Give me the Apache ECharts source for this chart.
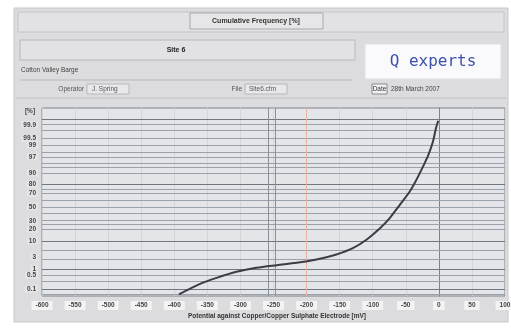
<!DOCTYPE html>
<html><head><meta charset="utf-8">
<script src="https://cdn.jsdelivr.net/npm/echarts@6/dist/echarts.min.js"></script>
<style>html,body{margin:0;padding:0;background:#fff}#c{width:511px;height:329px}</style>
</head><body><div id="c"></div>
<script>
// ---- data ----
const potentialMV = [-393, -361, -336, -306, -276, -245, -215, -185, -155, -130, -109, -89, -74, -59, -44, -34, -24, -16, -9, -4.5, -1];
const cumulativePct = [0.05, 0.19, 0.38, 0.73, 1.1, 1.42, 1.76, 2.4, 3.67, 6.0, 11.0, 21.0, 34.0, 53.1, 71.8, 84.5, 93.5, 97.4, 99.28, 99.84, 99.94];
const yTickLabels = [99.9, 99.5, 99, 97, 90, 80, 70, 50, 30, 20, 10, 3, 1, 0.5, 0.1];
const yGridPct = [99.95, 99.9, 99.8, 99.5, 99, 98, 97, 95, 93, 90, 80, 75, 70, 60, 50, 40, 30, 25, 20, 10, 5, 2.5, 1, 0.5, 0.25, 0.1, 0.05];
const yMajorPct = [99.95, 80, 10, 1, 0.1];
const xMarkers = [-258, -248];
const xMarkerRed = [-200];
const titleText = 'Cumulative Frequency [%]';
const siteText = 'Site 6';
const locText = 'Cotton Valley Barge';
const operatorText = 'Operator';
const operatorVal = 'J. Spring';
const fileLabel = 'File';
const fileVal = 'Site6.cfm';
const dateLabel = 'Date';
const dateVal = '28th March 2007';
const xTitle = 'Potential against Copper/Copper Sulphate Electrode [mV]';

// probability-paper transform (inverse normal CDF)
function probit(pct){
  const p = pct/100;
  const a=[-39.69683028665376,220.9460984245205,-275.9285104469687,138.3577518672690,-30.66479806614716,2.506628277459239];
  const b=[-54.47609879822406,161.5858368580409,-155.6989798598866,66.80131188771972,-13.28068155288572];
  const c=[-0.007784894002430293,-0.3223964580411365,-2.400758277161838,-2.549732539343734,4.374664141464968,2.938163982698783];
  const d=[0.007784695709041462,0.3224671290700398,2.445134137142996,3.754408661907416];
  const pl=0.02425;
  let q,r;
  if(p<pl){q=Math.sqrt(-2*Math.log(p));return (((((c[0]*q+c[1])*q+c[2])*q+c[3])*q+c[4])*q+c[5])/((((d[0]*q+d[1])*q+d[2])*q+d[3])*q+1);}
  if(p>1-pl){q=Math.sqrt(-2*Math.log(1-p));return -(((((c[0]*q+c[1])*q+c[2])*q+c[3])*q+c[4])*q+c[5])/((((d[0]*q+d[1])*q+d[2])*q+d[3])*q+1);}
  q=p-0.5;r=q*q;
  return (((((a[0]*r+a[1])*r+a[2])*r+a[3])*r+a[4])*r+a[5])*q/(((((b[0]*r+b[1])*r+b[2])*r+b[3])*r+b[4])*r+1);
}

const seriesData = potentialMV.map((v,i)=>[v, probit(cumulativePct[i])]);
const labelZ = yTickLabels.map(probit);

const chart = echarts.init(document.getElementById('c'), null, {renderer:'canvas'});
const F = 'Liberation Sans, Arial, sans-serif';
const gridLines = yGridPct.map(p=>({yAxis: probit(p), lineStyle:{color: yMajorPct.includes(p)?'#6f7780':'#9aa1ab', width:1, type:'solid'}}));
const vLines = xMarkers.map(v=>({xAxis:v, lineStyle:{color:'#8a8f98',width:1,type:'solid'}}))
  .concat(xMarkerRed.map(v=>({xAxis:v, lineStyle:{color:'#e6b4a4',width:1,type:'solid'}})));

chart.setOption({
  animation:false,
  backgroundColor:'#ffffff',
  graphic:[
    {type:'rect', shape:{x:14,y:8,width:494,height:314}, style:{fill:'#dcdcde', stroke:'#c8c8cc'}, z:-10},
    {type:'rect', shape:{x:18,y:12,width:486,height:20}, style:{fill:'#e2e2e4', stroke:'#c4c4c8'}, z:-9},
    {type:'rect', shape:{x:190,y:13,width:133,height:16}, style:{fill:'#e6e6e8', stroke:'#a8a8ae'}, z:-8},
    {type:'text', x:256, y:21, style:{text:titleText, font:'bold 7px '+F, fill:'#333', align:'center', verticalAlign:'middle'}},
    {type:'rect', shape:{x:20,y:40,width:335,height:20}, style:{fill:'#e2e2e4', stroke:'#b8b8bc'}, z:-8},
    {type:'text', x:176, y:50, style:{text:siteText, font:'bold 7px '+F, fill:'#222', align:'center', verticalAlign:'middle'}},
    {type:'text', x:21, y:70, style:{text:locText, font:'6.5px '+F, fill:'#444', align:'left', verticalAlign:'middle'}},
    {type:'line', shape:{x1:20,y1:80,x2:352,y2:80}, style:{stroke:'#b8b8bc', lineWidth:1}},
    {type:'text', x:84, y:89, style:{text:operatorText, font:'6.5px '+F, fill:'#555', align:'right', verticalAlign:'middle'}},
    {type:'rect', shape:{x:87,y:84,width:42,height:10}, style:{fill:'#e8e8ea', stroke:'#b8b8bc'}},
    {type:'text', x:92, y:89, style:{text:operatorVal, font:'6.5px '+F, fill:'#555', align:'left', verticalAlign:'middle'}},
    {type:'text', x:242, y:89, style:{text:fileLabel, font:'6.5px '+F, fill:'#555', align:'right', verticalAlign:'middle'}},
    {type:'rect', shape:{x:245,y:84,width:42,height:10}, style:{fill:'#e8e8ea', stroke:'#b8b8bc'}},
    {type:'text', x:249, y:89, style:{text:fileVal, font:'6.5px '+F, fill:'#555', align:'left', verticalAlign:'middle'}},
    {type:'rect', shape:{x:372,y:84,width:15,height:10}, style:{fill:'#f2f2f2', stroke:'#8a8a90'}},
    {type:'text', x:379.5, y:89, style:{text:dateLabel, font:'6.5px '+F, fill:'#333', align:'center', verticalAlign:'middle'}},
    {type:'text', x:391, y:89, style:{text:dateVal, font:'6.5px '+F, fill:'#444', align:'left', verticalAlign:'middle'}},
    {type:'line', shape:{x1:16,y1:98,x2:506,y2:98}, style:{stroke:'#c0c0c4', lineWidth:1}},
    {type:'rect', shape:{x:365,y:44,width:136,height:35}, style:{fill:'#fafafc', stroke:'#e0e0e4'}},
    {type:'text', x:433, y:62, style:{text:'Q experts', font:'16px DejaVu Sans Mono, Liberation Mono, monospace', fill:'#3d52a6', align:'center', verticalAlign:'middle'}},
    {type:'text', x:277, y:316, style:{text:xTitle, font:'bold 6.5px '+F, fill:'#333', align:'center', verticalAlign:'middle'}},
    {type:'text', x:30, y:111, style:{text:'[%]', font:'bold 6.5px '+F, fill:'#444', align:'center', verticalAlign:'middle'}}
  ],
  grid:{left:42, right:6, top:108, bottom:33, outerBoundsMode:'none', containLabel:false, show:true, backgroundColor:'#e4e5e8', borderColor:'#7d838c', borderWidth:1},
  xAxis:{type:'value', min:-600, max:100, interval:50,
    axisLine:{show:false}, axisTick:{show:false},
    splitLine:{show:true, lineStyle:{color:'#d4d5d9', width:1}},
    axisLabel:{fontSize:6.5, fontFamily:F, fontWeight:'bold', color:'#444', margin:5, backgroundColor:'#f3f3f4', padding:[1,4,1,4], hideOverlap:false, showMaxLabel:true, showMinLabel:true}
  },
  yAxis:{type:'value', min:probit(0.04), max:probit(99.99),
    axisLine:{show:true, lineStyle:{color:'#7d838c'}}, axisTick:{show:false},
    splitLine:{show:false},
    axisLabel:{customValues:labelZ, fontSize:6.5, fontFamily:F, fontWeight:'bold', color:'#444', margin:4, backgroundColor:'#e4e4e6', padding:[0,2,0,2], hideOverlap:false,
      formatter:function(v){let best=0,bd=1e9;labelZ.forEach((z,i)=>{const d=Math.abs(z-v);if(d<bd){bd=d;best=i;}});return String(yTickLabels[best]);}}
  },
  series:[
    {type:'line', data:[], silent:true,
      markLine:{silent:true, symbol:'none', label:{show:false}, animation:false, data:gridLines.concat(vLines)}},
    {type:'line', data:seriesData, smooth:0.3, showSymbol:false, lineStyle:{color:'#3b3c44', width:2}, z:5}
  ]
});
</script></body></html>
